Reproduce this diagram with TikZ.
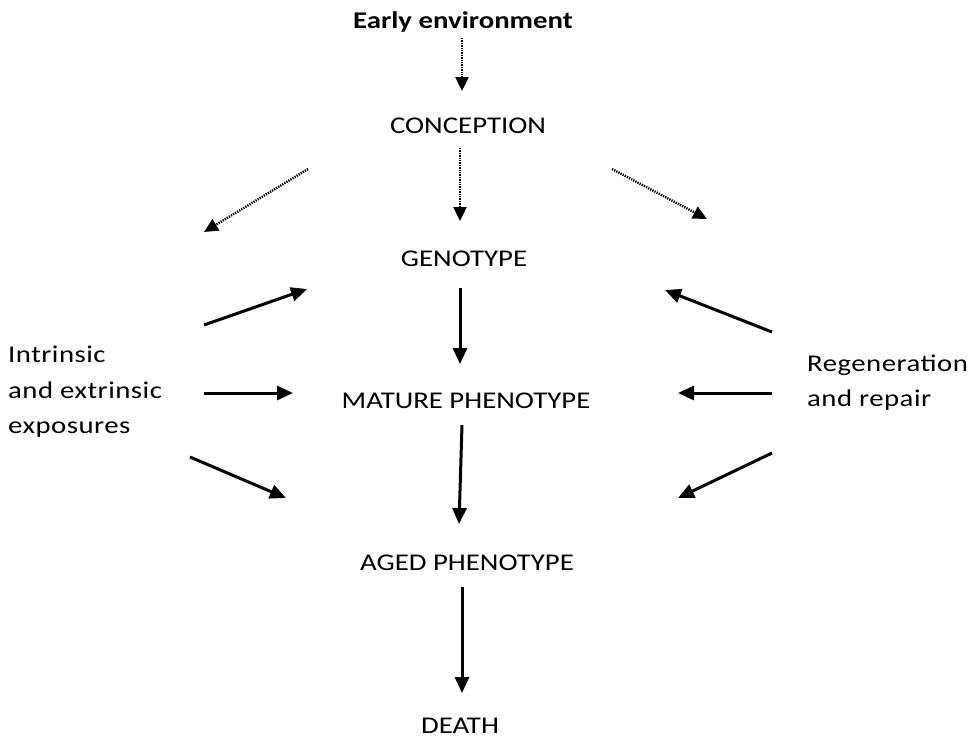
\documentclass[tikz,border=0pt]{standalone}
\usepackage{fontspec}
\setmainfont{Carlito}[FakeStretch=1.2]
\usetikzlibrary{arrows.meta}
\begin{document}
\begin{tikzpicture}[x=1pt,y=-1pt,
  lbl/.style={font=\fontsize{24}{30}\selectfont, inner sep=0pt, anchor=base},
  lline/.style={lbl, anchor=base west, font=\fontsize{24}{30}\selectfont\addfontfeatures{LetterSpace=2}},
  solidarr/.style={line width=3pt, -{Triangle[length=16pt,width=14pt]}},
  dotarr/.style={line width=2.4pt, dash pattern=on 1.3pt off 1.1pt, -{Triangle[length=14pt,width=13pt]}}]
\useasboundingbox (0,0) rectangle (972,742);
\fill[white] (0,0) rectangle (972,742);
% text nodes
\node[lbl, font=\fontsize{24}{30}\selectfont\bfseries] (early) at (463,28) {Early environment};
\node[lbl] (conc) at (468,133) {CONCEPTION};
\node[lbl] (geno) at (464,266) {GENOTYPE};
\node[lbl] (mature) at (466,408) {MATURE PHENOTYPE};
\node[lbl] (aged) at (467,570) {AGED PHENOTYPE};
\node[lbl] (death) at (460,733) {DEATH};
\node[lline] (intr1) at (8,362) {Intrinsic};
\node[lline] (intr2) at (8,398) {and extrinsic};
\node[lline] (intr3) at (8,433) {exposures};
\node[lline] (regen1) at (807,371) {Regeneration};
\node[lline] (regen2) at (807,406) {and repair};
% coordinates
\coordinate (e1) at (462,38);  \coordinate (e2) at (462,91);
\coordinate (c1) at (460,148); \coordinate (c2) at (460,221);
\coordinate (cl1) at (308,169); \coordinate (cl2) at (204,232);
\coordinate (cr1) at (612,169); \coordinate (cr2) at (707,219);
\coordinate (g1) at (460,288); \coordinate (g2) at (460,364);
\coordinate (m1) at (462,425); \coordinate (m2) at (459,524);
\coordinate (a1) at (462,587); \coordinate (a2) at (462,693);
\coordinate (l1a) at (204,325); \coordinate (l1b) at (307,289);
\coordinate (l2a) at (204,393); \coordinate (l2b) at (293,393);
\coordinate (l3a) at (190,457); \coordinate (l3b) at (286,498);
\coordinate (r1a) at (772,332); \coordinate (r1b) at (665,290);
\coordinate (r2a) at (772,393); \coordinate (r2b) at (678,393);
\coordinate (r3a) at (772,453); \coordinate (r3b) at (678,498);
% dotted arrows
\draw[dotarr] (e1) -- (e2);
\draw[dotarr] (c1) -- (c2);
\draw[dotarr] (cl1) -- (cl2);
\draw[dotarr] (cr1) -- (cr2);
% solid arrows
\draw[solidarr] (g1) -- (g2);
\draw[solidarr] (m1) -- (m2);
\draw[solidarr] (a1) -- (a2);
\draw[solidarr] (l1a) -- (l1b);
\draw[solidarr] (l2a) -- (l2b);
\draw[solidarr] (l3a) -- (l3b);
\draw[solidarr] (r1a) -- (r1b);
\draw[solidarr] (r2a) -- (r2b);
\draw[solidarr] (r3a) -- (r3b);
\end{tikzpicture}
\end{document}
